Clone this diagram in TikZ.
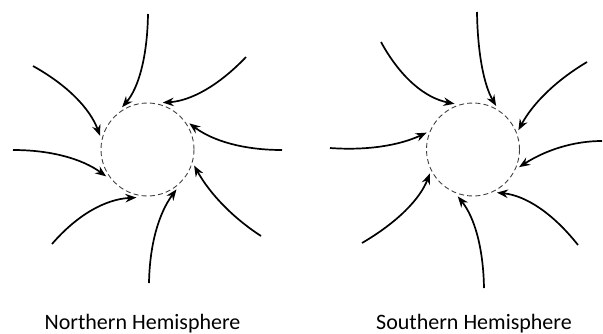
\documentclass[tikz,border=0pt]{standalone}
\usepackage{fontspec}
\setmainfont{Carlito}
\usetikzlibrary{arrows.meta,calc}
\begin{document}
\begin{tikzpicture}[x=1pt,y=-1pt,
  region/.style={circle,draw=black!75,line width=0.9pt,dash pattern=on 5pt off 3.2pt,
    minimum size=93pt,inner sep=0pt,outer sep=2.8pt},
  inflow/.style={line width=1.7pt,-{Stealth[length=11pt,width=8.5pt]}},
  caption/.style={anchor=base,font=\fontsize{22}{26}\selectfont}]
\useasboundingbox (0,0) rectangle (603,333);
% quadratic curve from #1 via control #2 to #3
\def\bend#1#2#3{\draw[inflow] (#1) .. controls ($(#1)!2/3!(#2)$) and ($(#3)!2/3!(#2)$) .. (#3);}

% ---- Northern Hemisphere: inflow deflected to the right ----
\node[region] (N) at (147.5,149.5) {};
\coordinate (n1) at (148,14);
\coordinate (n2) at (246,57);
\coordinate (n3) at (282,150);
\coordinate (n4) at (261,236);
\coordinate (n5) at (149,283);
\coordinate (n6) at (52,244);
\coordinate (n7) at (13,150);
\coordinate (n8) at (33,66);
\bend{n1}{147,78}{N.121}
\bend{n2}{205,100}{N.72}
\bend{n3}{225,150}{N.32}
\bend{n4}{218,208}{N.-19.5}
\bend{n5}{150,225}{N.-54.6}
\bend{n6}{90,200}{N.-103}
\bend{n7}{70,150}{N.213.5}
\bend{n8}{85,95}{N.164.4}
\node[caption] (Ncap) at (142.5,329) {Northern Hemisphere};

% ---- Southern Hemisphere: inflow deflected to the left ----
\node[region] (S) at (473,149.5) {};
\coordinate (s1) at (477,12);
\coordinate (s2) at (587,62);
\coordinate (s3) at (602,141);
\coordinate (s4) at (578,245);
\coordinate (s5) at (484,288);
\coordinate (s6) at (362,243);
\coordinate (s7) at (330,148);
\coordinate (s8) at (381,42);
\bend{s1}{478,75}{S.62.7}
\bend{s2}{540,90}{S.23}
\bend{s3}{560,141}{S.-21}
\bend{s4}{540,197}{S.-61}
\bend{s5}{483,228}{S.-108.6}
\bend{s6}{415,212}{S.-151}
\bend{s7}{385,152}{S.160}
\bend{s8}{410,95}{S.112.7}
\node[caption] (Scap) at (474,329) {Southern Hemisphere};
\end{tikzpicture}
\end{document}
